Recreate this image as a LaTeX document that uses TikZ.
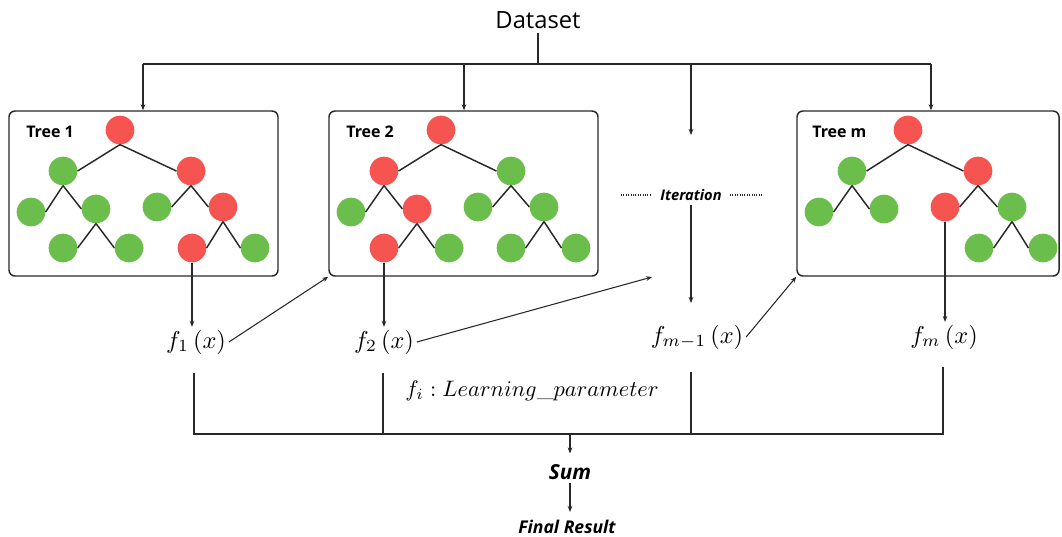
\documentclass[tikz,border=0pt]{standalone}
\usepackage{fontspec}
\usepackage{graphicx}
\setsansfont{Open Sans}
\usetikzlibrary{arrows.meta}
\definecolor{nred}{RGB}{246,84,80}
\definecolor{ngreen}{RGB}{108,190,76}
\definecolor{ink}{RGB}{40,40,40}
\begin{document}
\begin{tikzpicture}[x=0.75pt,y=-0.75pt,
  rn/.style={circle,fill=nred,minimum size=21.5pt,inner sep=0pt},
  gn/.style={circle,fill=ngreen,minimum size=21.5pt,inner sep=0pt},
  edge/.style={draw=ink,line width=1.1pt},
  tbox/.style={draw=ink,line width=1.1pt,rounded corners=4.5pt},
  conn/.style={draw=ink,line width=0.8pt},
  arr/.style={conn,-{Stealth[length=4.5pt,width=3.5pt]}},
  tlabel/.style={font=\sffamily\bfseries\fontsize{12}{14}\selectfont,inner sep=0pt},
  flabel/.style={font=\fontsize{10}{12}\selectfont,inner sep=2pt},
  bilabel/.style={font=\sffamily\bfseries\itshape},
]
\useasboundingbox (0,0) rectangle (1062,536);

% Dataset and distribution
\node[font=\sffamily\fontsize{17.8}{20}\selectfont] (ds) at (538,20) {Dataset};
\coordinate (dsj) at (538,64);
\coordinate (jl) at (143,64);
\coordinate (jr) at (931,64);
\coordinate (j2) at (464,64);
\coordinate (ji) at (691,64);

% Boxes
\node[tbox,minimum width=201.75pt,minimum height=123.75pt] (b1) at (143.5,193.5) {};
\node[tbox,minimum width=201.75pt,minimum height=123.75pt] (b2) at (463.5,193.5) {};
\node[tbox,minimum width=196.5pt,minimum height=123.75pt] (bm) at (928,193.5) {};

\draw[conn] (ds.south) -- (dsj);
\draw[conn] (jl) -- (jr);
\draw[arr] (jl) -- (jl |- b1.north);
\draw[arr] (j2) -- (j2 |- b2.north);
\draw[arr] (jr) -- (jr |- bm.north);

\node[tlabel,anchor=west] (l1) at (26,132) {Tree 1};
\node[tlabel,anchor=west] (l2) at (346,132) {Tree 2};
\node[tlabel,anchor=west] (lm) at (812,132) {Tree m};

% Tree 1
\node[rn] (a0) at (120,130) {};
\node[gn] (aL) at (63,171) {};
\node[rn] (aR) at (191,171) {};
\node[gn] (aLa) at (31,212) {};
\node[gn] (aLb) at (96,209) {};
\node[gn] (aRa) at (157,207) {};
\node[rn] (aRb) at (223,207) {};
\node[gn] (aLba) at (63,248) {};
\node[gn] (aLbb) at (129,248) {};
\node[rn] (aRba) at (192,248) {};
\node[gn] (aRbb) at (255,248) {};
\draw[edge] (a0.south) -- (aL.east) (a0.south) -- (aR.west)
  (aL.south) -- (aLa.east) (aL.south) -- (aLb.west)
  (aR.south) -- (aRa.east) (aR.south) -- (aRb.west)
  (aLb.south) -- (aLba.east) (aLb.south) -- (aLbb.west)
  (aRb.south) -- (aRba.east) (aRb.south) -- (aRbb.west);

% Tree 2
\node[rn] (b0) at (441,130) {};
\node[rn] (bL) at (384,171) {};
\node[gn] (bR) at (511,171) {};
\node[gn] (bLa) at (351,212) {};
\node[rn] (bLb) at (417,209) {};
\node[gn] (bRa) at (478,207) {};
\node[gn] (bRb) at (544,207) {};
\node[rn] (bLba) at (384,248) {};
\node[gn] (bLbb) at (449,248) {};
\node[gn] (bRba) at (511,248) {};
\node[gn] (bRbb) at (576,248) {};
\draw[edge] (b0.south) -- (bL.east) (b0.south) -- (bR.west)
  (bL.south) -- (bLa.east) (bL.south) -- (bLb.west)
  (bR.south) -- (bRa.east) (bR.south) -- (bRb.west)
  (bLb.south) -- (bLba.east) (bLb.south) -- (bLbb.west)
  (bRb.south) -- (bRba.east) (bRb.south) -- (bRbb.west);

% Tree m
\node[rn] (c0) at (908,130) {};
\node[gn] (cL) at (852,171) {};
\node[rn] (cR) at (978,171) {};
\node[gn] (cLa) at (819,212) {};
\node[gn] (cLb) at (884,209) {};
\node[rn] (cRa) at (945,207) {};
\node[gn] (cRb) at (1012,207) {};
\node[gn] (cRba) at (979,248) {};
\node[gn] (cRbb) at (1043,248) {};
\draw[edge] (c0.south) -- (cL.east) (c0.south) -- (cR.west)
  (cL.south) -- (cLa.east) (cL.south) -- (cLb.west)
  (cR.south) -- (cRa.east) (cR.south) -- (cRb.west)
  (cRb.south) -- (cRba.east) (cRb.south) -- (cRbb.west);

% Iteration
\node[bilabel,font=\sffamily\bfseries\itshape\fontsize{11}{13}\selectfont] (it) at (691,195) {Iteration};
\coordinate (itarr) at (691,135);
\draw[arr] (ji) -- (itarr);
\coordinate (dl1) at (621,195);
\coordinate (dl2) at (650,195);
\coordinate (dr1) at (730,195);
\coordinate (dr2) at (763,195);
\draw[ink,densely dotted,line width=0.8pt] (dl1) -- (dl2) (dr1) -- (dr2);

% f labels
\node[flabel] (f1) at (196,342) {\scalebox{1.83}{$f_1\,(x)$}};
\node[flabel] (f2) at (384,342) {\scalebox{1.83}{$f_2\,(x)$}};
\node[flabel] (fm1) at (697,337) {\scalebox{1.83}{$f_{m-1}\,(x)$}};
\node[flabel] (fm) at (944,337) {\scalebox{1.83}{$f_m\,(x)$}};

\draw[arr] (aRba.south) -- (aRba.south |- f1.north);
\draw[arr] (bLba.south) -- (bLba.south |- f2.north);
\draw[arr] (cRa.south) -- (cRa.south |- fm.north);
\coordinate (fm1tip) at (691,303);
\draw[arr] (it.south -| fm1tip) -- (fm1tip);

\coordinate (itin) at (652,277);
\draw[arr] (f1.east) -- (b2.south west);
\draw[arr] (f2.east) -- (itin);
\draw[arr] (fm1.east) -- (bm.south west);

% learning parameter
\node[flabel] (lp) at (532,391) {\scalebox{1.68}{$f_i : Learning\_parameter$}};

% bottom sum bracket
\coordinate (s1t) at (194,373);
\coordinate (s1b) at (194,434);
\coordinate (s2t) at (383,373);
\coordinate (s2b) at (383,434);
\coordinate (s3t) at (691,372);
\coordinate (s3b) at (691,434);
\coordinate (s4t) at (943,367);
\coordinate (s4b) at (943,434);
\coordinate (sj) at (570,434);
\draw[conn] (s1t) -- (s1b) -- (s4b) -- (s4t);
\draw[conn] (s2t) -- (s2b) (s3t) -- (s3b);

\node[font=\sffamily\bfseries\itshape\fontsize{15.5}{18}\selectfont,inner sep=2pt] (sum) at (570,472) {Sum};
\node[font=\sffamily\bfseries\itshape\fontsize{13.2}{15}\selectfont,inner sep=2pt] (fr) at (567,527) {Final Result};
\draw[arr,shorten >=6pt] (sj) -- (sum.north);
\draw[arr,shorten >=4pt] (sum.south) -- (sum.south |- fr.north);
\end{tikzpicture}
\end{document}
